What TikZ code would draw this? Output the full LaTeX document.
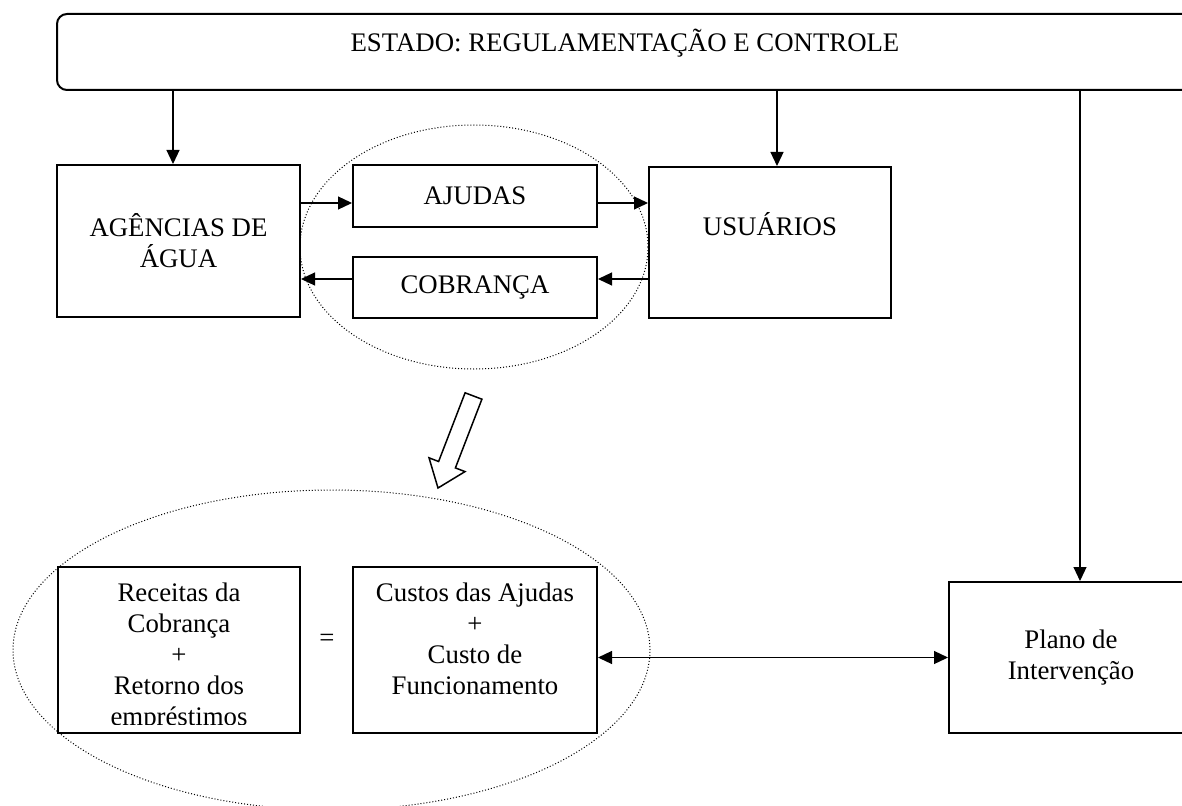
\documentclass[tikz,border=0pt]{standalone}
\usepackage{fontspec}
\setmainfont{Liberation Serif}
\usetikzlibrary{arrows.meta,shapes.geometric}

\begin{document}
\begin{tikzpicture}[
    x=1pt, y=-1pt,
    txt/.style={font=\fontsize{26.8}{31}\selectfont, align=center, inner sep=0pt},
    box/.style={rectangle, draw, fill=white, line width=2pt, txt},
    roundbox/.style={box, rounded corners=10pt},
    zone/.style={ellipse, draw, line width=1pt, dash pattern=on 1pt off 2pt},
    conn/.style={->, line width=1.2pt},
    >={Triangle[length=14pt,width=13pt]}
]
    \clip (0,0) rectangle (1182,805);

    % Dotted groupings
    \node[zone, minimum width=348, minimum height=244] (fluxos) at (474,247) {};
    \node[zone, minimum width=637, minimum height=320] (equilibrio) at (331.5,650) {};

    % State on top
    \node[roundbox, minimum width=1136, minimum height=76] (estado) at (625,52) {};
    \node[txt, anchor=base] (estadotxt) at (625,52) {ESTADO: REGULAMENTAÇÃO E CONTROLE};

    % Upper row
    \node[box, minimum width=243, minimum height=152] (agencias) at (178.5,241) {AGÊNCIAS DE\\ÁGUA};
    \node[box, minimum width=244, minimum height=62] (ajudas) at (475,196) {AJUDAS};
    \node[box, minimum width=244, minimum height=61] (cobranca) at (475,287.5) {COBRANÇA};
    \node[box, minimum width=242, minimum height=151] (usuarios) at (770,242.5) {};
    \node[txt, anchor=base] (usuariostxt) at (770,235) {USUÁRIOS};

    % Lower row
    \node[box, minimum width=242, minimum height=166] (receitas) at (179,650) {};
    \begin{scope}
        \clip (receitas.north west) rectangle ([yshift=10pt]receitas.south east);
        \node[txt, anchor=north] (receitastxt) at (179,582.7)
            {Receitas da\\Cobrança\\+\\Retorno dos\\empréstimos};
    \end{scope}
    \node[txt] (igual) at (327,640) {=};
    \node[box, minimum width=244, minimum height=166] (custos) at (475,650) {};
    \node[txt, anchor=north] (custostxt) at (475,582.7)
        {Custos das Ajudas\\+\\Custo de\\Funcionamento};
    \node[box, minimum width=244, minimum height=151] (plano) at (1071,657.5) {Plano de\\Intervenção};

    % Connections from the state
    \draw[conn] ([xshift=-5.5pt]agencias.north |- estado.south) -- ([xshift=-5.5pt]agencias.north);
    \draw[conn] ([xshift=7pt]usuarios.north |- estado.south) -- ([xshift=7pt]usuarios.north);
    \draw[conn] ([xshift=9pt]plano.north |- estado.south) -- ([xshift=9pt]plano.north);

    % Flows between agencies and users
    \coordinate (ajin) at ([yshift=-7pt]ajudas.west);
    \coordinate (ajout) at ([yshift=-7pt]ajudas.east);
    \coordinate (cbin) at ([yshift=8.5pt]cobranca.east);
    \coordinate (cbout) at ([yshift=8.5pt]cobranca.west);
    \draw[conn] (agencias.east |- ajin) -- (ajin);
    \draw[conn] (ajout) -- (usuarios.west |- ajout);
    \draw[conn] (usuarios.west |- cbin) -- (cbin);
    \draw[conn] (cbout) -- (agencias.east |- cbout);

    % Balance and plan
    \draw[conn, <->] (custos.east |- plano.west) -- (plano.west);

    % Hollow arrow
    \draw[line width=1.5pt, fill=white] (465.1,392.8) -- (481.9,399.2) -- (455.4,467.9)
        -- (465,471.6) -- (438,488) -- (429,457.8) -- (438.6,461.5) -- cycle;
\end{tikzpicture}
\end{document}
